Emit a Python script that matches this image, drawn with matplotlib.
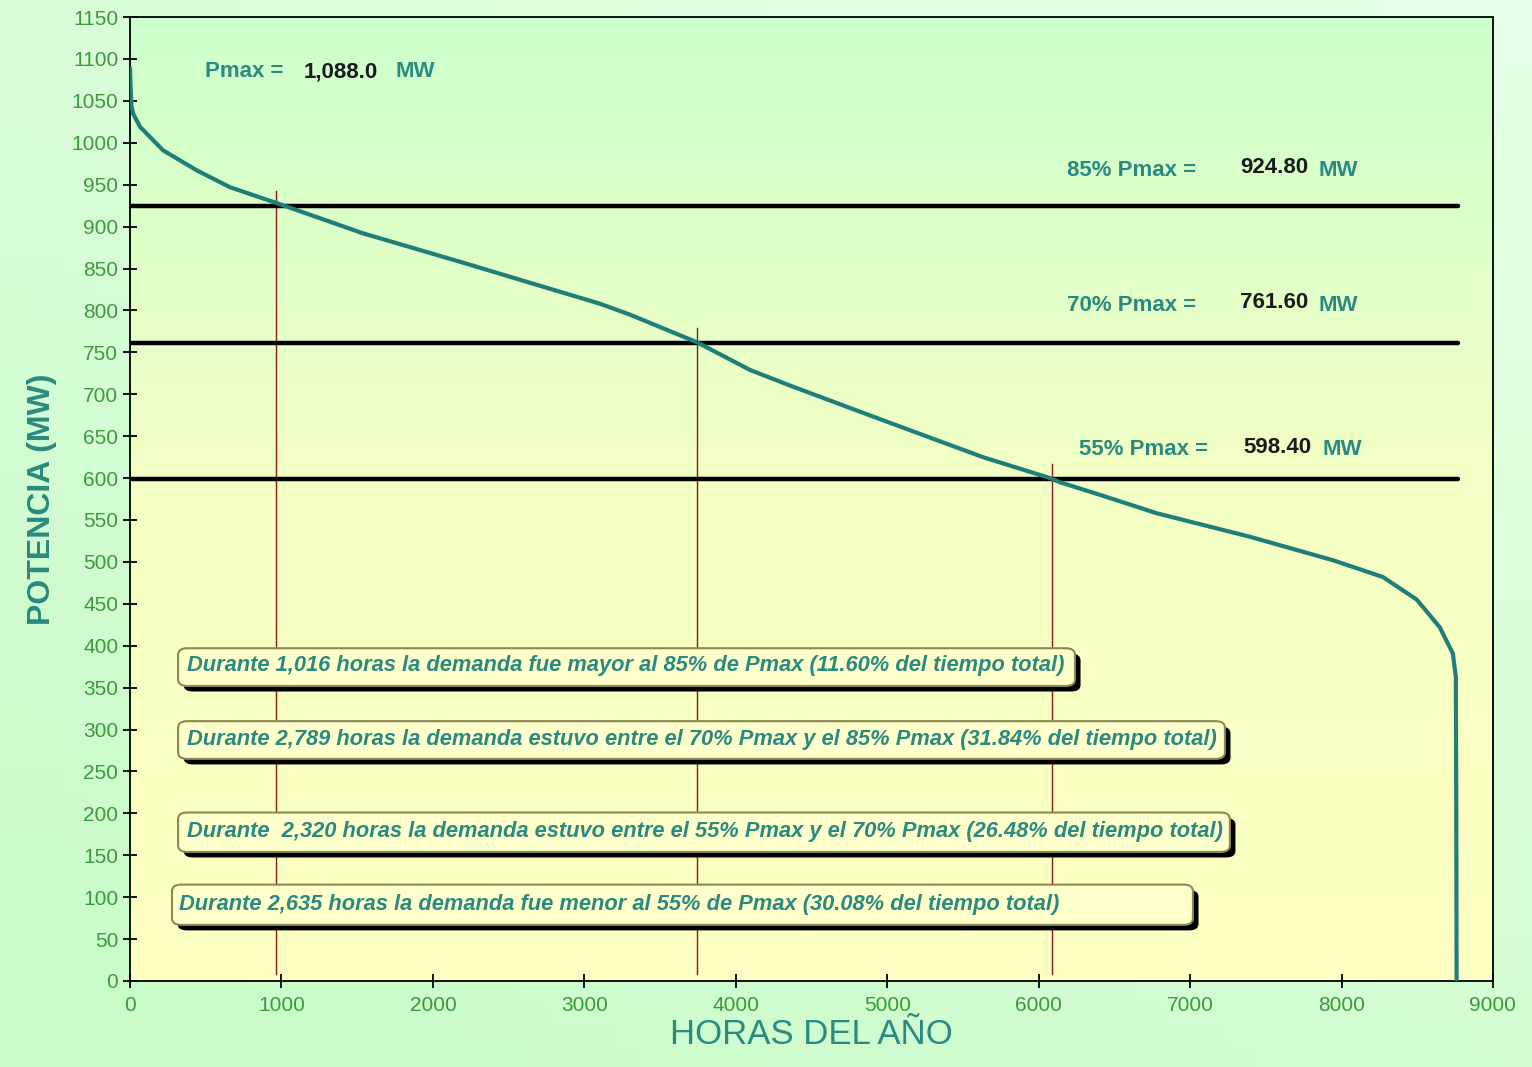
import numpy as np
import matplotlib
matplotlib.use('Agg')
import matplotlib.pyplot as plt
import matplotlib.patheffects as pe
from matplotlib.colors import LinearSegmentedColormap
from matplotlib.patches import FancyBboxPatch

# curva de duracion de carga
horas = [0, 3, 8, 20, 66, 218, 442, 660, 970, 1538, 2199, 2641, 3103, 3301,
         3744, 4094, 4378, 4972, 5632, 6075, 6141, 6405, 6781, 7395,
         7943, 8273, 8497, 8649, 8735, 8755, 8758, 8760]
potencia = [1088, 1070, 1045, 1035, 1019, 991, 967, 947, 928, 892, 857, 833, 808, 795,
            762, 729, 709, 669, 625, 600, 595, 580, 558, 530,
            502, 482, 455, 422, 391, 363, 200, 0]

niveles = [924.80, 761.60, 598.40]
etiquetas_nivel = ['85% Pmax =', '70% Pmax =', '55% Pmax =']
cruces = [965, 3745, 6090]   # horas donde la curva corta cada nivel
pmax = 1088.0

textos = ['Durante 1,016 horas la demanda fue mayor al 85% de Pmax (11.60% del tiempo total)',
          'Durante 2,789 horas la demanda estuvo entre el 70% Pmax y el 85% Pmax (31.84% del tiempo total)',
          'Durante  2,320 horas la demanda estuvo entre el 55% Pmax y el 70% Pmax (26.48% del tiempo total)',
          'Durante 2,635 horas la demanda fue menor al 55% de Pmax (30.08% del tiempo total)']
texto_y = [376, 288, 178, 91]
texto_x = [376, 376, 376, 323]
# cajas (x0, x1, y0, y1) en unidades de datos
cajas = [(317, 6240, 352, 397), (317, 7230, 265, 310), (317, 7263, 154, 201), (277, 7019, 67, 115)]

teal = '#2a8a80'
verde = '#3c9a3c'
plt.rcParams['font.family'] = ['Liberation Sans', 'DejaVu Sans']

fig = plt.figure(figsize=(15.32, 10.67), dpi=100)

# fondo de la figura (degradado verde claro)
bg = fig.add_axes([0, 0, 1, 1], zorder=-10)
cm_bg = LinearSegmentedColormap.from_list('bg', ['#c8fcc8', '#e6ffe6'])
gx, gy = np.meshgrid(np.linspace(0, 1, 50), np.linspace(0, 1, 50))
bg.imshow(0.6 * gy + 0.4 * gx, cmap=cm_bg, origin='lower', extent=[0, 1, 0, 1], aspect='auto')
bg.axis('off')

ax = fig.add_axes([0.0849, 0.0806, 0.8896, 0.9034])
ax.set_xlim(0, 9000)
ax.set_ylim(0, 1150)

# fondo del area de trazado: verde arriba, amarillo abajo
cm_ax = LinearSegmentedColormap.from_list('ax', ['#ffffc2', '#f4ffc4', '#ccffcc'])
grad = np.linspace(0, 1, 256).reshape(-1, 1)
ax.imshow(grad, cmap=cm_ax, origin='lower', extent=[0, 9000, 0, 1150], aspect='auto', zorder=0)

# lineas horizontales de niveles
for n in niveles:
    ax.plot([0, 8770], [n, n], color='black', lw=3.2, solid_capstyle='round', zorder=3)

# lineas verticales rojas
for c, n in zip(cruces, niveles):
    ax.plot([c, c], [8, n + 18], color='#8b1a1a', lw=1.0, zorder=2)

ax.plot(horas, potencia, color='#1f7f78', lw=3, zorder=4)

# etiquetas
ax.text(495, 1085, 'Pmax =', color=teal, fontsize=16, fontweight='bold', va='center')
ax.text(1149, 1085, f'{pmax:,.1f}', color='#1a1a1a', fontsize=16, fontweight='bold', va='center')
ax.text(1756, 1085, 'MW', color=teal, fontsize=16, fontweight='bold', va='center')

lab_pos = [(6187, 967, 7330, 7845), (6187, 806, 7330, 7845), (6266, 634, 7349, 7877)]
for (xl, yl, xv, xm), lab, n in zip(lab_pos, etiquetas_nivel, niveles):
    ax.text(xl, yl, lab, color=teal, fontsize=16, fontweight='bold', va='center')
    ax.text(xv, yl + 3, f'{n:.2f}', color='#1a1a1a', fontsize=16, fontweight='bold', va='center')
    ax.text(xm, yl, 'MW', color=teal, fontsize=16, fontweight='bold', va='center')

# cuadros de texto con sombra
for t, y, x, (x0, x1, y0, y1) in zip(textos, texto_y, texto_x, cajas):
    caja = FancyBboxPatch((x0, y0), x1 - x0, y1 - y0,
                          boxstyle='round,pad=0,rounding_size=60', mutation_aspect=0.13,
                          fc='#ffffcc', ec='#8a8a50', lw=1.5, zorder=5)
    caja.set_path_effects([pe.SimplePatchShadow(offset=(4, -4), shadow_rgbFace='black', alpha=1.0),
                           pe.Normal()])
    ax.add_patch(caja)
    ax.text(x, y, t, color=teal, fontsize=15.75, fontweight='bold', style='italic', va='center',
            zorder=6)

# ejes
ax.set_xticks(np.arange(0, 9001, 1000))
ax.set_yticks(np.arange(0, 1151, 50))
ax.tick_params(axis='both', labelsize=15, labelcolor=verde, direction='inout', length=10, width=1.3, color='black')
ax.tick_params(axis='x', pad=6)
for s in ax.spines.values():
    s.set_linewidth(1.3)

ax.set_ylabel('POTENCIA (MW)', color=teal, fontsize=23, fontweight='bold', labelpad=10)
ax.set_xlabel('HORAS DEL AÑO', color=teal, fontsize=25, labelpad=2)

fig.savefig('out.png', dpi=100)
